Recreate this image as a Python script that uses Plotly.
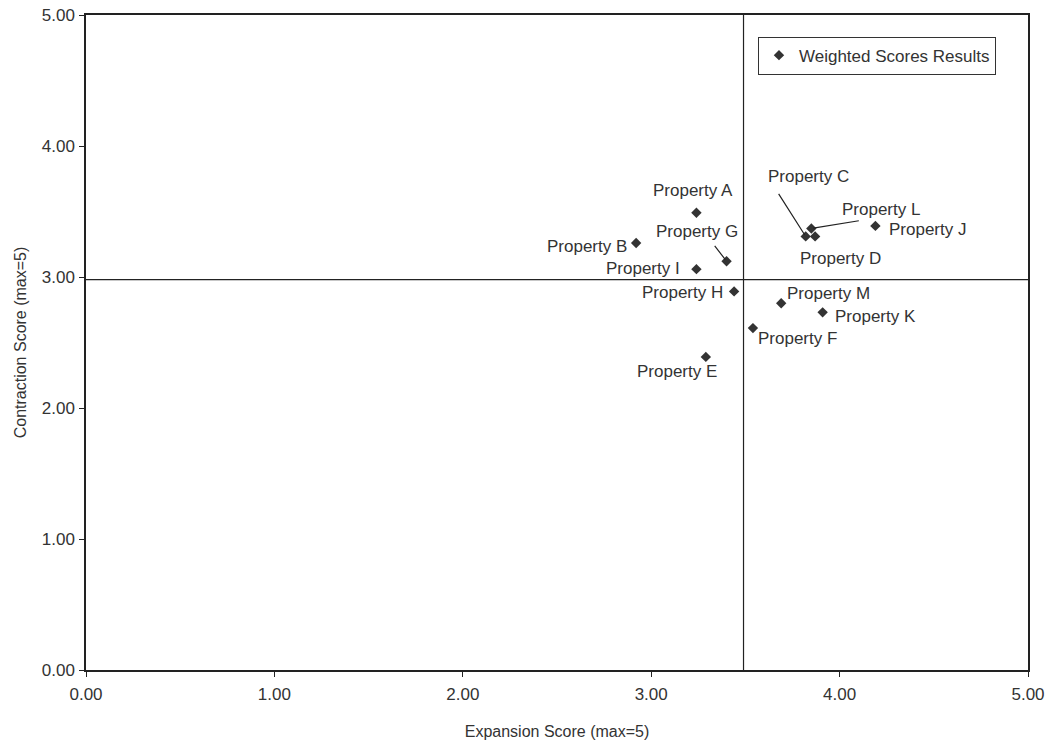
import plotly.graph_objects as go

# ---- data ----
properties = ["Property A", "Property B", "Property C", "Property D", "Property E",
              "Property F", "Property G", "Property H", "Property I", "Property J",
              "Property K", "Property L", "Property M"]
expansion = [3.24, 2.92, 3.82, 3.87, 3.29, 3.54, 3.40, 3.44, 3.24, 4.19, 3.91, 3.85, 3.69]
contraction = [3.49, 3.26, 3.31, 3.31, 2.39, 2.61, 3.12, 2.89, 3.06, 3.39, 2.73, 3.37, 2.80]
avg_expansion = 3.49
avg_contraction = 2.98
tick_values = [0, 1, 2, 3, 4, 5]
tick_labels = ["0.00", "1.00", "2.00", "3.00", "4.00", "5.00"]

# label offsets (pixels) relative to each point
label_dx = {"Property A": -3, "Property B": -49, "Property C": 3, "Property D": 25,
            "Property E": -29, "Property F": 45, "Property G": -30, "Property H": -52,
            "Property I": -53, "Property J": 52, "Property K": 53, "Property L": 70,
            "Property M": 47}
label_dy = {"Property A": 22, "Property B": -4, "Property C": 60, "Property D": -22,
            "Property E": -15, "Property F": -10, "Property G": 30, "Property H": -1,
            "Property I": 1, "Property J": -4, "Property K": -4, "Property L": 19,
            "Property M": 10}
# leader lines: tail offset from point (pixels, ay down positive)
leaders = {"Property C": (-28, -44), "Property G": (-13, -17), "Property L": (49, -8)}

TEXT = "#333333"
FONT = "Liberation Sans, Arial, sans-serif"

fig = go.Figure()
fig.add_trace(go.Scatter(
    x=expansion, y=contraction, mode="markers", name="Weighted Scores Results",
    marker=dict(symbol="diamond", size=8, color="#333333"),
    text=properties, hoverinfo="text+x+y"))

fig.add_vline(x=avg_expansion, line=dict(color="#222222", width=1.2), layer="below")
fig.add_hline(y=avg_contraction, line=dict(color="#222222", width=1.2), layer="below")

for name, xv, yv in zip(properties, expansion, contraction):
    fig.add_annotation(x=xv, y=yv, xref="x", yref="y", text=name, showarrow=False,
                       xanchor="center", yanchor="middle",
                       xshift=label_dx[name], yshift=label_dy[name],
                       font=dict(size=17, color=TEXT, family=FONT))
    if name in leaders:
        ax, ay = leaders[name]
        fig.add_annotation(x=xv, y=yv, xref="x", yref="y", text="", showarrow=True,
                           arrowhead=0, arrowwidth=1.2, arrowcolor="#222222",
                           ax=ax, ay=ay, standoff=2)

axis_common = dict(range=[0, 5], tickvals=tick_values, ticktext=tick_labels,
                   showgrid=False, zeroline=False, showline=True, mirror=True,
                   linecolor="#222222", linewidth=1.5, ticks="outside", ticklen=5,
                   tickcolor="#222222", automargin=False, ticklabeloverflow="allow",
                   tickfont=dict(size=17, color=TEXT, family=FONT))

fig.update_xaxes(**axis_common, ticklabelstandoff=3,
                 title=dict(text="Expansion Score (max=5)",
                            font=dict(size=16, color=TEXT, family=FONT), standoff=23))
fig.update_yaxes(**axis_common, ticklabelstandoff=1,
                 title=dict(text="Contraction Score (max=5)",
                            font=dict(size=16, color=TEXT, family=FONT), standoff=11))

fig.update_layout(
    width=1049, height=741,
    margin=dict(l=86, r=21, t=15, b=71),
    paper_bgcolor="white", plot_bgcolor="white",
    font=dict(family=FONT, color=TEXT),
    showlegend=True,
    legend=dict(x=0.966, y=0.967, xanchor="right", yanchor="top",
                bgcolor="white", bordercolor="#333333", borderwidth=1,
                font=dict(size=17, color=TEXT, family=FONT), itemwidth=30),
)

fig.write_html("out.html",
               config={"displayModeBar": False},
               post_script="document.body.style.margin='0px';document.body.style.overflow='hidden';")
